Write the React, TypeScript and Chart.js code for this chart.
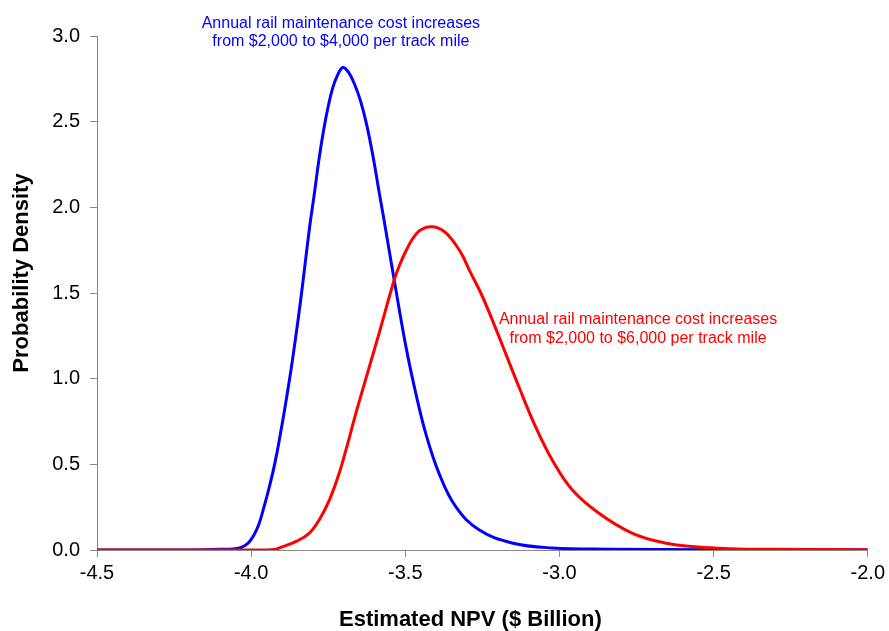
import React, { useEffect, useRef } from "react";
import { Chart, registerables } from "chart.js";

Chart.register(...registerables);

// ---- data ----
const blueX = [-4.5, -4.2, -4.1, -4.06, -4.037, -4.02, -4.005, -3.99, -3.975, -3.96, -3.945, -3.93, -3.915, -3.9, -3.885, -3.87, -3.855, -3.84, -3.825, -3.81, -3.795, -3.78, -3.765, -3.75, -3.735, -3.72, -3.703, -3.685, -3.665, -3.645, -3.625, -3.605, -3.585, -3.569, -3.536, -3.498, -3.466, -3.434, -3.391, -3.337, -3.261, -3.154, -3.024, -2.831, -2.5, -2.0];
const blueY = [0, 0, 0.004, 0.006, 0.012, 0.026, 0.05, 0.09, 0.15, 0.24, 0.34, 0.45, 0.58, 0.73, 0.89, 1.06, 1.25, 1.45, 1.67, 1.89, 2.08, 2.28, 2.45, 2.59, 2.7, 2.77, 2.816, 2.79, 2.72, 2.62, 2.48, 2.3, 2.09, 1.926, 1.576, 1.187, 0.915, 0.682, 0.449, 0.254, 0.118, 0.041, 0.012, 0.005, 0.002, 0];

const redX = [-4.5, -3.95, -3.918, -3.908, -3.854, -3.811, -3.779, -3.746, -3.714, -3.69, -3.66, -3.623, -3.585, -3.536, -3.517, -3.498, -3.477, -3.455, -3.435, -3.415, -3.395, -3.375, -3.355, -3.335, -3.315, -3.29, -3.255, -3.218, -3.175, -3.132, -3.078, -3.024, -2.959, -2.873, -2.765, -2.658, -2.55, -2.45, -2.3, -2.0];
const redY = [0, 0, 0.005, 0.012, 0.05, 0.099, 0.177, 0.293, 0.451, 0.6, 0.8, 1.03, 1.265, 1.576, 1.67, 1.745, 1.815, 1.862, 1.882, 1.887, 1.88, 1.86, 1.826, 1.778, 1.72, 1.625, 1.5, 1.343, 1.149, 0.954, 0.721, 0.527, 0.352, 0.216, 0.099, 0.041, 0.017, 0.008, 0.004, 0.002];

const xTickValues = [-4.5, -4.0, -3.5, -3.0, -2.5, -2.0];
const yTickValues = [0, 0.5, 1.0, 1.5, 2.0, 2.5, 3.0];

const blueNote = ["Annual rail maintenance cost increases", "from $2,000 to $4,000 per track mile"];
const redNote = ["Annual rail maintenance cost increases", "from $2,000 to $6,000 per track mile"];
const xTitle = "Estimated NPV ($ Billion)";
const yTitle = "Probability Density";

const FONT = '"Liberation Sans", Arial, sans-serif';
const BLUE = "#0000FF";
const RED = "#FF0000";
const AXIS = "#868686";

const notesPlugin = {
  id: "notesPlugin",
  afterDatasetsDraw(chart: any) {
    const { ctx, scales, chartArea } = chart;
    const xs = scales.x;
    const ys = scales.y;
    const notes = [
      { lines: blueNote, color: BLUE, x: -3.709, y: 3.075 },
      { lines: redNote, color: RED, x: -2.745, y: 1.343 },
    ];
    ctx.save();
    ctx.font = "16px " + FONT;
    ctx.textAlign = "center";
    ctx.textBaseline = "middle";
    notes.forEach((n) => {
      ctx.fillStyle = n.color;
      const px = xs.getPixelForValue(n.x);
      const py = ys.getPixelForValue(n.y);
      n.lines.forEach((l, i) => ctx.fillText(l, px, py + i * 18.5));
    });
    // axis titles
    ctx.fillStyle = "#000";
    ctx.font = "bold 22px " + FONT;
    ctx.fillText(xTitle, (chartArea.left + chartArea.right) / 2 - 12, 620);
    ctx.translate(22, (chartArea.top + chartArea.bottom) / 2 - 20);
    ctx.rotate(-Math.PI / 2);
    ctx.fillText(yTitle, 0, 0);
    ctx.restore();
  },
};

export default function App() {
  const ref = useRef<HTMLCanvasElement | null>(null);

  useEffect(() => {
    document.body.style.margin = "0";
    const canvas = ref.current;
    if (!canvas) return;
    const chart = new Chart(canvas, {
      type: "line",
      data: {
        datasets: [
          {
            label: "Blue",
            data: blueX.map((x, i) => ({ x, y: blueY[i] })),
            borderColor: BLUE,
            borderWidth: 3,
            pointRadius: 0,
            tension: 0.4,
            fill: false,
            order: 1,
          },
          {
            label: "Red",
            data: redX.map((x, i) => ({ x, y: redY[i] })),
            borderColor: RED,
            borderWidth: 3,
            pointRadius: 0,
            tension: 0.4,
            fill: false,
            order: 0,
          },
        ],
      },
      options: {
        animation: false,
        responsive: false,
        maintainAspectRatio: false,
        layout: { padding: { left: 0, right: 19, top: 36, bottom: 0 } },
        plugins: {
          legend: { display: false },
          tooltip: { enabled: false },
          title: { display: false },
        },
        scales: {
          x: {
            type: "linear",
            min: -4.5,
            max: -2.0,
            afterBuildTicks: (s: any) => {
              s.ticks = xTickValues.map((v) => ({ value: v }));
            },
            afterFit: (s: any) => {
              s.height = 81;
            },
            ticks: {
              callback: (v: any) => Number(v).toFixed(1),
              color: "#000",
              font: { family: FONT, size: 20 },
              padding: 4,
              maxRotation: 0,
              autoSkip: false,
            },
            grid: { drawOnChartArea: false, drawTicks: true, tickLength: 7, color: AXIS },
            border: { color: AXIS, width: 1 },
          },
          y: {
            type: "linear",
            min: 0,
            max: 3.0,
            afterBuildTicks: (s: any) => {
              s.ticks = yTickValues.map((v) => ({ value: v }));
            },
            afterFit: (s: any) => {
              s.width = 97;
            },
            ticks: {
              callback: (v: any) => Number(v).toFixed(1),
              color: "#000",
              font: { family: FONT, size: 20 },
              padding: 10,
              autoSkip: false,
            },
            grid: { drawOnChartArea: false, drawTicks: true, tickLength: 7, color: AXIS },
            border: { color: AXIS, width: 1 },
          },
        },
      },
      plugins: [notesPlugin],
    });
    return () => chart.destroy();
  }, []);

  return (
    <div style={{ width: 889, height: 631, background: "#fff" }}>
      <canvas ref={ref} width={889} height={631} style={{ width: 889, height: 631, display: "block" }} />
    </div>
  );
}
